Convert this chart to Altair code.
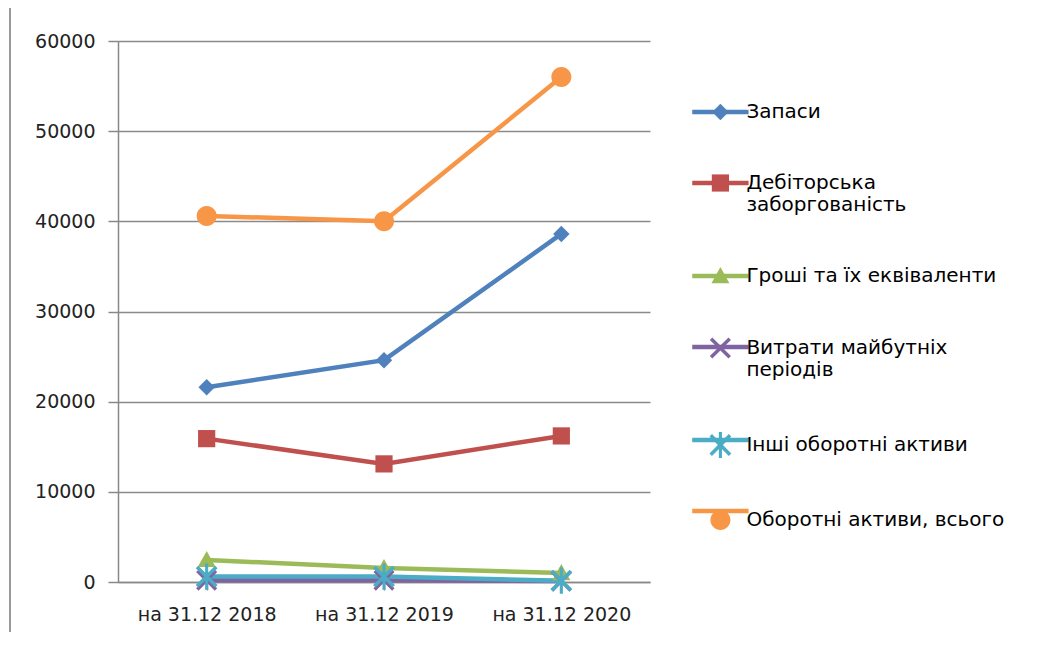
import altair as alt
import pandas as pd

categories = ["на 31.12 2018", "на 31.12 2019", "на 31.12 2020"]
series_names = [
    "Запаси",
    "Дебіторська заборгованість",
    "Гроші та їх еквіваленти",
    "Витрати майбутніх періодів",
    "Інші оборотні активи",
    "Оборотні активи, всього",
]
zapasy = [21600, 24600, 38600]
debitorska = [15900, 13100, 16200]
groshi = [2450, 1550, 1000]
vytraty = [200, 200, 100]
inshi = [600, 600, 150]
vsogo = [40600, 40000, 56000]
values = [zapasy, debitorska, groshi, vytraty, inshi, vsogo]

colors = ["#4F81BD", "#C0504D", "#9BBB59", "#8064A2", "#4BACC6", "#F79646"]

# filled outline shapes for the "x" and "asterisk" markers (arm half-thickness a)
a = 0.13
x_pts = [(a + 1, a - 1), (2 * a, 0), (1 + a, 1 - a), (1 - a, 1 + a), (0, 2 * a), (a - 1, a + 1),
         (-a - 1, 1 - a), (-2 * a, 0), (-1 - a, a - 1), (-1 + a, -1 - a), (0, -2 * a), (1 - a, -a - 1)]
x_path = "M" + "L".join(f"{px:.3f},{py:.3f}" for px, py in x_pts) + "Z"
b = 0.16
bar_path = f"M{b},-1.35L{b},1.35L{-b},1.35L{-b},-1.35Z"

shapes = [
    "M0,-1L1,0L0,1L-1,0Z",
    "M-1,-1L1,-1L1,1L-1,1Z",
    "M0,-1L1,0.8L-1,0.8Z",
    x_path,
    x_path + bar_path,
    "M-1,0A1,1,0,1,1,1,0A1,1,0,1,1,-1,0Z",
]
sizes = [270, 400, 320, 200, 260, 360]

rows = []
for name, vals in zip(series_names, values):
    for cat, v in zip(categories, vals):
        rows.append({"series": name, "period": cat, "value": v})
df = pd.DataFrame(rows)

FONT = "DejaVu Sans"
FS = 19
LABEL_EXPR = (
    "datum.label == 'Дебіторська заборгованість' ? ['Дебіторська', 'заборгованість'] : "
    "datum.label == 'Витрати майбутніх періодів' ? ['Витрати майбутніх', 'періодів'] : datum.label"
)
# same line structure, but blank, for the legend that only draws the line strokes
BLANK_EXPR = (
    "datum.label == 'Дебіторська заборгованість' || datum.label == 'Витрати майбутніх періодів'"
    " ? ['\u00a0', '\u00a0'] : '\u00a0'"
)
LEG_COMMON = dict(
    title=None,
    orient="none",
    legendX=592.4,
    legendY=61,
    labelFont=FONT,
    labelFontSize=20,
    labelLimit=400,
    rowPadding=51,
    padding=0,
    symbolSize=180,
    labelOffset=16,
)

x_enc = alt.X(
    "period:N",
    sort=categories,
    scale=alt.Scale(paddingInner=0, paddingOuter=0),
    axis=alt.Axis(
        title=None, labelAngle=0, labelFontSize=FS, labelFont=FONT,
        labelColor="#222", labelPadding=15, domainColor="#888", domainWidth=1.5,
        tickColor="#888", tickSize=8, tickWidth=1.5, bandPosition=0, grid=False,
    ),
)
y_enc = alt.Y(
    "value:Q",
    scale=alt.Scale(domain=[0, 60000], nice=False),
    axis=alt.Axis(
        title=None, values=list(range(0, 60001, 10000)), format="d",
        labelFontSize=FS, labelFont=FONT, labelColor="#222", labelPadding=13,
        domainColor="#888", domainWidth=1.5, tickColor="#888", tickSize=10,
        tickWidth=1.5, gridColor="#8a8a8a", gridWidth=1.3,
    ),
)

# line colours: data-driven domain, so the line legend stays apart from the marker legend
stroke_scale = alt.Scale(range=colors)
color_scale = alt.Scale(domain=series_names, range=colors)

line_legend = alt.Legend(
    symbolType="M-4.2,0L4.2,0",
    symbolStrokeWidth=4.5,
    labelExpr=BLANK_EXPR,
    **LEG_COMMON,
)
marker_legend = alt.Legend(
    symbolStrokeWidth=0,
    symbolOpacity=1,
    labelColor="#000",
    labelExpr=LABEL_EXPR,
    **LEG_COMMON,
)

base = alt.Chart(df)

lines = base.mark_line(strokeWidth=4.5).encode(
    x=x_enc,
    y=y_enc,
    stroke=alt.Stroke("series:N", scale=stroke_scale, sort=series_names, legend=line_legend),
    detail="series:N",
)

points = base.mark_point(filled=True, opacity=1, strokeWidth=0).encode(
    x=x_enc,
    y=y_enc,
    color=alt.Color("series:N", scale=color_scale, sort=series_names, legend=marker_legend),
    shape=alt.Shape("series:N", scale=alt.Scale(domain=series_names, range=shapes), sort=series_names, legend=marker_legend),
    size=alt.Size("series:N", scale=alt.Scale(domain=series_names, range=sizes), legend=None),
)

frame = alt.Chart(pd.DataFrame({"a": [0]})).mark_rule(color="#9a9a9a", strokeWidth=2).encode(
    x=alt.value(-108), y=alt.value(-41), y2=alt.value(605)
)

chart = alt.layer(lines, points, frame).properties(
    width=532,
    height=541,
    padding={"left": 110, "top": 33, "right": 384, "bottom": 50},
    autosize=alt.AutoSizeParams(type="none"),
).configure_view(stroke=None)

chart.save("out.html", embed_options={"renderer": "svg", "actions": False})
